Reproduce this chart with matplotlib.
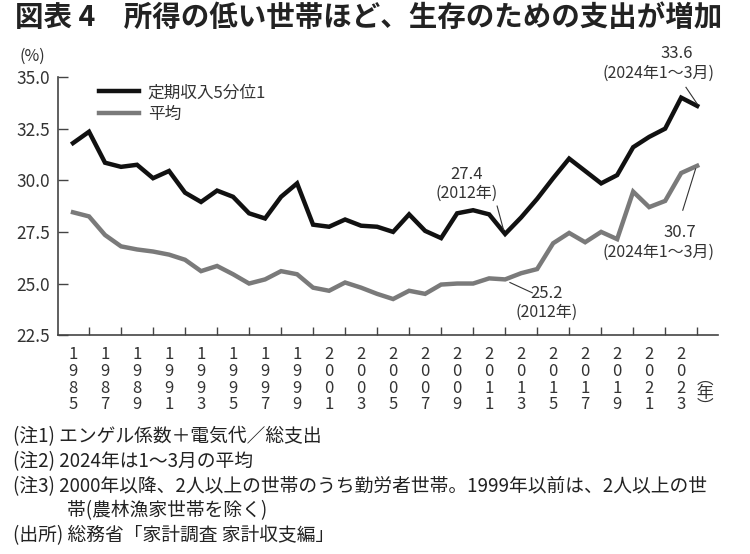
import matplotlib.pyplot as plt

plt.rcParams['font.family'] = ['Noto Sans CJK JP', 'DejaVu Sans']

# Data
years = list(range(1985, 2025))
low_income = [31.8, 32.35, 30.85, 30.65, 30.75, 30.1, 30.45, 29.4, 28.95, 29.5,
              29.2, 28.4, 28.15, 29.2, 29.85, 27.85, 27.75, 28.1, 27.8, 27.75,
              27.5, 28.35, 27.55, 27.2, 28.4, 28.55, 28.35, 27.4, 28.2, 29.1,
              30.1, 31.05, 30.45, 29.85, 30.25, 31.6, 32.1, 32.5, 34.0, 33.6]
average = [28.45, 28.25, 27.35, 26.8, 26.65, 26.55, 26.4, 26.15, 25.6, 25.85,
           25.45, 25.0, 25.2, 25.6, 25.45, 24.8, 24.65, 25.05, 24.8, 24.5,
           24.25, 24.65, 24.5, 24.95, 25.0, 25.0, 25.25, 25.2, 25.5, 25.7,
           26.95, 27.45, 27.0, 27.5, 27.15, 29.45, 28.7, 29.0, 30.35, 30.7]
yticks = [22.5, 25.0, 27.5, 30.0, 32.5, 35.0]
label_years = list(range(1985, 2024, 2))
tick_years = list(range(1986, 2025, 2))

text_color = '#333333'

fig = plt.figure(figsize=(7.5, 5.54), dpi=100)
ax = fig.add_axes([0.0773, 0.395, 0.88, 0.466])

ax.plot(years, low_income, color='#111111', lw=3.2, solid_joinstyle='miter',
        label='定期収入5分位1')
ax.plot(years, average, color='#7a7a7a', lw=3.2, solid_joinstyle='miter',
        label='平均')

ax.set_ylim(22.5, 35.0)
ax.set_xlim(1984.06, 2025.3)
ax.set_yticks(yticks)
ax.set_yticklabels([f'{v:.1f}' for v in yticks], fontsize=12.5, color=text_color)
ax.set_xticks(tick_years)
ax.set_xticklabels([])
ax.set_xticks(label_years, minor=True)
ax.set_xticklabels(['\n'.join(str(y)) for y in label_years], minor=True,
                   fontsize=12, color=text_color, linespacing=0.97)
ax.tick_params(axis='y', direction='in', length=7, width=1, color='#444444', pad=6)
ax.tick_params(axis='x', which='major', direction='in', length=6, width=1, color='#444444')
ax.tick_params(axis='x', which='minor', length=0, pad=8)

for side in ['top', 'right']:
    ax.spines[side].set_visible(False)
for side in ['left', 'bottom']:
    ax.spines[side].set_color('#444444')
    ax.spines[side].set_linewidth(1.2)

leg = ax.legend(loc='upper left', bbox_to_anchor=(0.04, 1.03), frameon=False,
                fontsize=12, handlelength=2.4, handletextpad=0.5, labelspacing=0.3)
for t in leg.get_texts():
    t.set_color(text_color)

# Annotations
ann = dict(ha='center', va='center', color=text_color)
ax.text(2022.75, 36.15, '33.6', fontsize=12, **ann)
ax.text(2021.6, 35.2, '(2024年1～3月)', fontsize=11.5, **ann)
ax.plot([2023.3, 2024.0], [34.5, 33.7], color='#333333', lw=0.8)

ax.text(2009.6, 30.3, '27.4', fontsize=12, **ann)
ax.text(2009.6, 29.35, '(2012年)', fontsize=11.5, **ann)
ax.plot([2011.5, 2011.9], [28.75, 27.6], color='#333333', lw=0.8)

ax.text(2014.6, 24.5, '25.2', fontsize=12, **ann)
ax.text(2014.6, 23.6, '(2012年)', fontsize=11.5, **ann)
ax.plot([2012.3, 2013.7], [25.05, 24.55], color='#333333', lw=0.8)

ax.text(2022.9, 27.45, '30.7', fontsize=12, **ann)
ax.text(2021.6, 26.5, '(2024年1～3月)', fontsize=11.5, **ann)
ax.plot([2023.1, 2023.9], [28.55, 30.55], color='#333333', lw=0.8)

# Title, unit and notes
fig.text(0.02, 0.967, '図表 4　所得の低い世帯ほど、生存のための支出が増加',
         fontsize=20.5, fontweight='bold', color='#222222', va='center')
fig.text(0.043, 0.899, '(%)', fontsize=11.5, color=text_color, ha='center', va='center')
fig.text(0.94, 0.29, '︵\n年\n︶', fontsize=12, color=text_color,
         ha='center', va='center', linespacing=0.8)

notes = [
    (0.018, '(注1) エンゲル係数＋電気代／総支出'),
    (0.018, '(注2) 2024年は1～3月の平均'),
    (0.018, '(注3) 2000年以降、2人以上の世帯のうち勤労者世帯。1999年以前は、2人以上の世'),
    (0.089, '帯(農林漁家世帯を除く)'),
    (0.018, '(出所) 総務省「家計調査 家計収支編」'),
]
for i, (x, line) in enumerate(notes):
    fig.text(x, 0.211 - i * 0.0445, line, fontsize=13.5, color='#222222', va='center')

plt.savefig('out.png', dpi=100)
